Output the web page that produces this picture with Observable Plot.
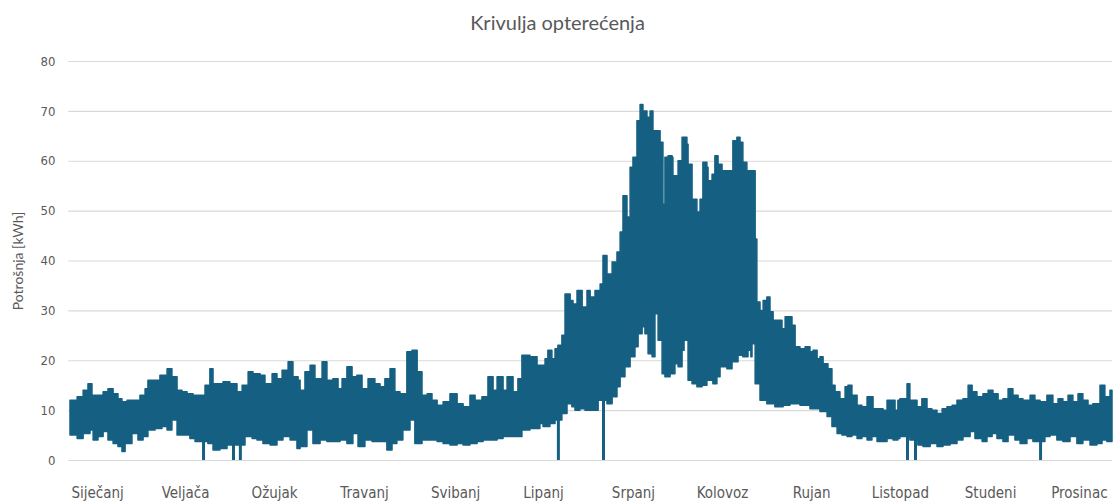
<!DOCTYPE html>
<html><head><meta charset="utf-8">
<script src="https://cdn.jsdelivr.net/npm/d3@7"></script>
<script src="https://cdn.jsdelivr.net/npm/@observablehq/plot@0.6"></script>
<style>
body{margin:0;background:#fff;width:1115px;height:504px;overflow:hidden}
#title{height:44px;line-height:44px;text-align:center;font-family:Lato,"Open Sans",sans-serif;font-size:20px;color:#595959;}
</style></head><body>
<div id="title">Krivulja opterećenja</div>
<div id="chart"></div>
<script>
// Month labels and their positions (day of year)
const monthLabels = ["Siječanj","Veljača","Ožujak","Travanj","Svibanj","Lipanj","Srpanj","Kolovoz","Rujan","Listopad","Studeni","Prosinac"];
const monthTickDays = [9.5, 40.3, 71.5, 103, 134.9, 165.7, 197.2, 228.4, 259.6, 290.7, 322.3, 353.4];
const yTicks = [0, 10, 20, 30, 40, 50, 60, 70, 80];

// Upper envelope of the hourly load [day, kWh]
const upperWinter = [[0,12],[2.5,12.7],[4.6,14],[6.3,15.3],[7.7,13],[9.5,13],[11.6,13.7],[13.3,14.3],[15.1,13.3],[16.8,12.3],[18.2,11.7],[20,12],[23.5,12],[24.5,13],[26.3,14.3],[27.3,16],[29.8,16],[31.5,17],[34,18.3],[35.7,16.7],[37.5,14],[39.2,13.7],[41,13.3],[43.1,13],[45.5,13],[47.3,15],[49,18.3],[50.1,15.3],[53.6,15.7],[56,15.3],[58.5,13.7],[60.3,15],[62.4,17.7],[64.1,17.3],[66.6,17],[68.3,15.3],[70.8,17.3],[72.5,16.3],[74.3,18],[76.4,19.7],[78.1,16.7],[79.9,16]];
const upperSpring = [[80.6,14],[82.3,17.7],[84.1,19],[85.8,16.3],[88.3,19.7],[90,16],[92.1,16.3],[93.9,14.3],[95.3,16.3],[97,18.7],[98.8,16.7],[100.5,17],[102.3,14.3],[104.4,16.3],[106.8,15.3],[108.6,14.7],[110.3,16.3],[112.1,18.3],[113.8,13.7],[115.6,13.3],[118,21.7],[119.8,22],[121.6,17.7],[123.3,13],[125.1,13.3],[126.8,12],[128.6,11],[130.7,11.7],[133.1,13.3],[135.6,11.3],[137.7,10.7],[140.1,13],[141.9,12],[144.3,12.7],[146.4,16.7],[148.2,14],[149.6,16.7],[151.7,14],[153.1,16.7],[155.2,13.7],[156.9,16.3],[158.3,21],[161.1,20.7],[163.6,19]];
const upperSummer = [[164.6,19],[166.4,20.3],[167.4,22],[168.8,20.3],[169.9,22.3],[170.9,23],[172.3,25],[173.4,33.3],[175.2,32],[176.2,31.3],[177.6,34],[179.4,30.7],[181.1,34],[182.2,32.7],[183.9,34],[185.7,35.3],[186.7,41],[188.1,37.3],[189.9,39.7],[191.6,41.7],[192.7,45.7],[193.7,53],[195.1,48.7],[196.2,58.7],[197.2,60.7],[198.6,68],[199.7,71.3],[200.7,70],[202.1,68.7],[203.2,70],[204.2,66],[205.6,66],[206.7,63.7],[207.7,51.3],[208.4,60.7],[209.1,58.3],[209.5,61],[210.9,60.7],[211.2,57],[212.6,57],[213,60],[214.4,64.7],[216.1,63.3],[216.5,59.3],[217.9,52.3],[219.6,49.7],[220.7,52.3],[221.4,49.3],[221.7,59.7],[223.1,58.7],[223.5,56],[224.9,57.3],[225.9,61],[227,59.3],[228.4,58],[231.2,58],[232.2,64],[233.6,64.7],[234.7,63.7],[235.7,59.7],[237.1,58],[238.9,58],[240,44.3],[240.6,31.7],[241.7,30],[242.8,32],[244.1,32.7],[245.2,29.7],[246.3,28],[248,28],[249.4,26.3],[250.5,28.7]];
const upperAutumn = [[251.5,28.7],[252.9,27],[254,22.7],[255.7,22.3],[257.5,22.7],[259.2,21.7],[260.3,22],[261.7,20.3],[262.7,20.7],[263.8,19.3],[265.5,18.3],[266.9,15],[268,13.7],[269.7,12.3],[271.5,14.7],[272.5,15],[273.9,13],[275.7,11],[277.4,10.7],[279.2,12.7],[280.2,12.7],[281.3,10.3],[283,10.3],[284.8,10],[286.2,12],[287.2,12],[289,10],[290,12],[290.7,12.3],[293.2,15.3],[294.2,12],[296.7,10.7],[298.4,12.3],[300.2,10.3],[301.9,10],[303.7,9.3],[305.5,10.3],[307.2,10.7],[309,11],[310.7,12],[312.8,12.3],[314.6,15],[316,13.7],[317.7,12.7],[319.8,13.3],[321.6,14],[323.3,13.3],[325.1,12],[326.8,12.3],[328.6,14.3],[330.3,13],[332.1,12.3],[333.8,12],[336.3,13],[338,12],[339.8,11.7],[342.2,13],[344.3,11.3],[346.1,12.3],[347.8,11.7],[349.6,13],[351.3,11.7],[353.1,13.3],[354.8,12],[356.6,11],[358.3,11.3],[360.8,15],[362.5,12.7],[364.3,14]];

// Lower envelope of the hourly load [day, kWh]
const lowerWinter = [[0,5],[2.5,4.3],[4.6,5.3],[7,6],[8.1,4],[9.8,4.7],[11.6,5.7],[13.3,4],[15.1,3.3],[16.8,2.7],[18.2,1.7],[19.3,3.3],[21.7,5.3],[23.8,4],[25.6,4.7],[27.3,6],[29.8,6.3],[32.2,6.7],[34,6],[35.7,8],[37.5,5],[39.6,5],[42,4.3],[43.8,3.7],[48.3,3.3],[50.1,2],[52.5,2.3],[55,3],[61.3,4.7],[63.8,4.3],[65.5,4],[67.6,3.3],[70.1,3],[72.5,4],[74.6,4.7],[77.1,4],[79.5,2.3]];
const lowerSpring = [[80.6,2.7],[83,6],[85.1,3.3],[87.6,4],[90,3.7],[92.1,3.7],[94.6,4],[97,3.3],[99.1,5.3],[100.9,2.7],[103.3,4],[105.8,3.7],[108.6,3.7],[111,2],[112.8,3.3],[114.5,4],[116.6,6],[119.1,8],[120.8,3.3],[123.3,4],[125.4,4],[128.6,3.7],[130.7,3.3],[133.1,3],[135.6,3.3],[137.7,3],[140.1,3.3],[142.6,3.7],[144.7,4],[147.1,4],[149.6,4.3],[151.7,4.7],[154.1,4.7],[156.6,4.7],[158.3,6],[161.1,6.3]];
const lowerSummer = [[164.6,7.3],[165.7,6.7],[168.1,7.3],[169.9,8],[172.3,9.3],[174.1,11.3],[175.8,10.7],[176.9,10],[178.6,10.3],[180.4,10],[183.2,10],[185,12],[188.1,11.3],[189.9,12.7],[191.6,14.7],[192.7,16.7],[194.4,18.7],[196.2,20.7],[197.9,22.7],[199,25.3],[200.4,26.7],[201.4,25.3],[202.5,21.3],[203.9,20.7],[204.9,29.3],[206,24],[207.4,17.3],[208.4,16.7],[210.2,17.3],[211.9,19.3],[213,18.7],[214.4,22],[215.1,24],[216.5,16],[217.9,15.3],[219.6,14.7],[221.4,15],[223.1,16],[225.2,15.3],[226.6,16.7],[227.7,18.7],[230.1,18.3],[231.9,19.7],[234,21],[235.7,20.7],[237.5,22],[238.5,20.7],[238.9,23.3],[240,15.3],[241.7,12],[244.1,11.3],[246.9,10.7],[249.8,11]];
const lowerAutumn = [[252.2,11.3],[255.7,11],[259.2,10.3],[262.7,9.7],[265.2,8.7],[266.9,6.7],[268.7,5.3],[270.4,5],[272.2,4.7],[273.9,5],[275.7,4.3],[277.4,4.7],[279.2,4],[280.9,4.7],[282.7,3.7],[286.2,4.3],[288.3,4],[290,4.3],[290.7,4.7],[294.2,4],[297,3],[298.8,2.7],[301.3,3.3],[303.7,2.7],[305.8,3],[308.3,3.3],[310.7,4],[312.8,4.7],[315.3,5.7],[317,4.3],[319.5,3.7],[321.2,4.7],[323,5.3],[324.7,4.3],[326.8,3.7],[328.6,5],[331,4],[332.8,3.3],[335.2,4.3],[337.3,3.7],[341.5,4.7],[343.3,5],[345.7,4],[347.8,3.7],[350.3,4.7],[352.7,3.3],[354.8,4],[357.3,3],[359.7,3.3],[361.5,4],[363.2,3.7]];

// Hours where the load dropped to zero (day of year)
const zeroDropDays = [46.6, 57.1, 59.5, 170.9, 186.7, 293.2, 296, 339.8];

const upper = [...upperWinter, ...upperSpring, ...upperSummer, ...upperAutumn];
const lower = [...lowerWinter, ...lowerSpring, ...lowerSummer, ...lowerAutumn];
const stepAt = (arr, x) => { let v = arr[0][1]; for (const [d, k] of arr) { if (d <= x) v = k; else break; } return v; };
const days = Array.from(new Set([...upper.map(d => d[0]), ...lower.map(d => d[0]), 365])).sort((a, b) => a - b);
const band = days.map(day => ({day, lo: stepAt(lower, day), hi: stepAt(upper, day)}));
const drops = zeroDropDays.map(day => ({day, top: stepAt(lower, day) + 1}));
const months = monthLabels.map((label, i) => ({label, day: monthTickDays[i]}));

const BLUE = "#156082";
const NARROW = "'Liberation Sans Narrow','DejaVu Sans Condensed',sans-serif";
const chart = Plot.plot({
  width: 1115,
  height: 460,
  marginTop: 17,
  marginBottom: 44,
  marginLeft: 70,
  marginRight: 3,
  style: {background: "#fff", color: "#595959"},
  x: {domain: [0, 365], axis: null},
  y: {domain: [0, 80], axis: null},
  marks: [
    Plot.gridY(yTicks, {stroke: "#d9d9d9", strokeOpacity: 1, strokeWidth: 1.2, x1: -0.6, x2: 365}),
    Plot.areaY(band, {x: "day", y1: "lo", y2: "hi", curve: "step-after", fill: BLUE, stroke: BLUE, strokeWidth: 1.5, strokeLinejoin: "round"}),
    Plot.ruleX(drops, {x: "day", y1: 0, y2: "top", stroke: BLUE, strokeWidth: 3}),
    Plot.axisY(yTicks, {tickSize: 0, tickPadding: 15, label: null, fontSize: 13, fill: "#595959", fontFamily: NARROW}),
    Plot.text(months, {x: "day", text: "label", frameAnchor: "bottom", dy: 33, lineAnchor: "middle", fontSize: 15, fill: "#595959", fontFamily: NARROW}),
    Plot.text(["Potrošnja [kWh]"], {frameAnchor: "left", textAnchor: "middle", dx: -52, rotate: -90, fontSize: 14, fill: "#595959", fontFamily: "Lato,'Open Sans',sans-serif"})
  ]
});
document.getElementById("chart").appendChild(chart);
</script>
</body></html>
